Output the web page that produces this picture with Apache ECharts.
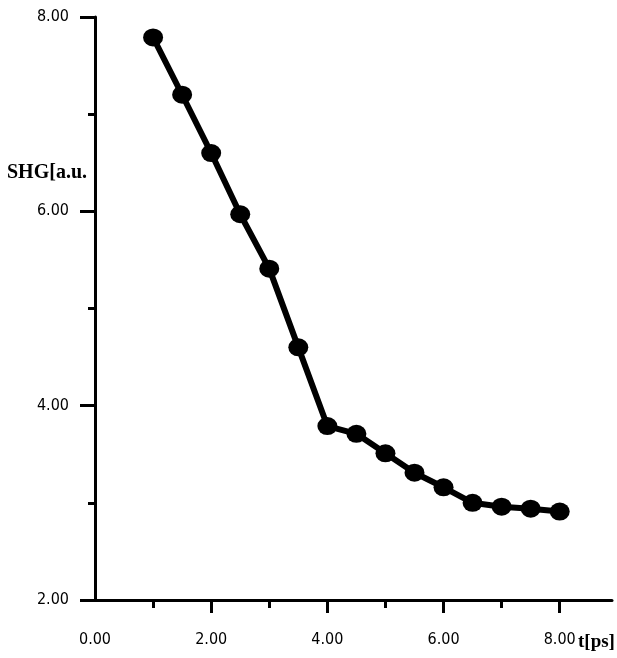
<!DOCTYPE html>
<html>
<head>
<meta charset="utf-8">
<script src="https://cdn.jsdelivr.net/npm/echarts@6/dist/echarts.min.js"></script>
<style>
  html, body { margin: 0; padding: 0; background: #fff; }
  #main { width: 617px; height: 658px; }
</style>
</head>
<body>
<div id="main"></div>
<script>
let chart = echarts.init(document.getElementById('main'));

// time in ps and SHG signal (a.u.)
const times = [1.0, 1.5, 2.0, 2.5, 3.0, 3.5, 4.0, 4.5, 5.0, 5.5, 6.0, 6.5, 7.0, 7.5, 8.0];
const shg = [7.79, 7.20, 6.60, 5.97, 5.41, 4.60, 3.79, 3.71, 3.51, 3.31, 3.16, 3.00, 2.96, 2.94, 2.91];
const yTicks = [2, 4, 6, 8];
const xTicks = [0, 2, 4, 6, 8];
const xMinorTicks = [1, 3, 5, 7];

const tickFont = {
    color: '#000',
    fontFamily: '"DejaVu Sans Condensed", "Liberation Sans Narrow", sans-serif',
    fontSize: 16
};

let options = {
    backgroundColor: '#fff',
    animation: false,
    grid: {
        left: 95,
        right: 5,
        top: 17,
        bottom: 58
    },
    xAxis: [{
        type: 'value',
        min: 0,
        max: 8.9,
        interval: 2,
        axisLine: { lineStyle: { color: '#000', width: 3 } },
        axisTick: { customValues: xTicks.slice(1), length: 13, lineStyle: { color: '#000', width: 3 } },
        splitLine: { show: false },
        axisLabel: Object.assign({
            margin: 32,
            customValues: xTicks,
            formatter: v => v.toFixed(2)
        }, tickFont)
    }, {
        // second copy only for the short ticks at odd values
        type: 'value',
        position: 'bottom',
        min: 0,
        max: 8.9,
        axisLine: { show: false },
        axisTick: { show: true, customValues: xMinorTicks, length: 8, lineStyle: { color: '#000', width: 3 } },
        axisLabel: { show: false },
        splitLine: { show: false }
    }],
    yAxis: {
        type: 'value',
        min: 2,
        max: 8,
        interval: 2,
        axisLine: { show: true, lineStyle: { color: '#000', width: 3 } },
        axisTick: { show: true, length: 15, lineStyle: { color: '#000', width: 3 } },
        minorTick: { show: true, splitNumber: 2, length: 7, lineStyle: { color: '#000', width: 3 } },
        splitLine: { show: false },
        axisLabel: Object.assign({
            margin: 26,
            formatter: v => yTicks.includes(v) ? v.toFixed(2) : ''
        }, tickFont)
    },
    graphic: [
        {
            type: 'text',
            left: 7,
            top: 163,
            style: {
                text: 'SHG[a.u.',
                fill: '#000',
                font: 'bold 20px "Liberation Serif", "Times New Roman", serif'
            }
        },
        {
            type: 'text',
            left: 578,
            top: 633,
            style: {
                text: 't[ps]',
                fill: '#000',
                font: 'bold 19px "Liberation Serif", "Times New Roman", serif'
            }
        }
    ],
    series: [{
        type: 'line',
        data: times.map((t, i) => [t, shg[i]]),
        symbol: 'circle',
        symbolSize: [20, 18],
        showAllSymbol: true,
        lineStyle: { color: '#000', width: 6 },
        itemStyle: { color: '#000' }
    }]
};
chart.setOption(options);
</script>
</body>
</html>
